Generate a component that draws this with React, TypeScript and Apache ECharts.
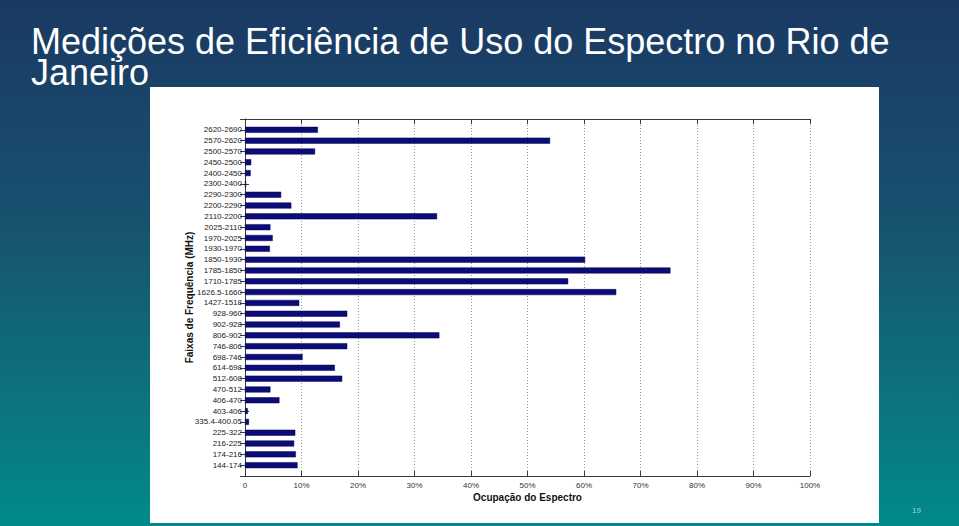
import React, { useEffect, useRef } from "react";
import * as echarts from "echarts";

const bandLabels: string[] = [
  "2620-2690", "2570-2620", "2500-2570", "2450-2500", "2400-2450", "2300-2400",
  "2290-2300", "2200-2290", "2110-2200", "2025-2110", "1970-2025", "1930-1970",
  "1850-1930", "1785-1850", "1710-1785", "1626.5-1660", "1427-1518", "928-960",
  "902-928", "806-902", "746-806", "698-746", "614-698", "512-608", "470-512",
  "406-470", "403-406", "335.4-400.05", "225-322", "216-225", "174-216", "144-174",
];

const occupancy: number[] = [
  12.9, 54.0, 12.4, 1.1, 1.0, 0.2,
  6.4, 8.2, 34.0, 4.5, 4.9, 4.4,
  60.2, 75.3, 57.2, 65.7, 9.6, 18.1,
  16.8, 34.4, 18.1, 10.2, 15.9, 17.2, 4.5,
  6.1, 0.5, 0.7, 8.9, 8.7, 9.0, 9.3,
];

const xTicks = { min: 0, max: 100, interval: 10 };

const titleLine1 = "Medições de Eficiência de Uso do Espectro no Rio de";
const titleLine2 = "Janeiro";
const yName = "Faixas de Frequência (MHz)";
const xName = "Ocupação do Espectro";
const pageNumber = "19";

const narrow = "'Liberation Sans Narrow', 'Arial Narrow', 'Liberation Sans', Arial, sans-serif";
const sans = "'Liberation Sans', Arial, sans-serif";

export default function App() {
  const ref = useRef<HTMLDivElement>(null);

  useEffect(() => {
    if (!ref.current) return;
    const chart = echarts.init(ref.current, undefined, { renderer: "svg" });
    // padded categories so that bars sit at 1..N inside [0, N+1]
    const cats = ["", ...bandLabels, ""];
    const vals = [null, ...occupancy, null];
    const axisLineStyle = { color: "#3a3a3a", width: 1 };
    const tickStyle = { color: "#3a3a3a", width: 1 };

    chart.setOption({
      animation: false,
      backgroundColor: "transparent",
      grid: { left: 245, right: 149, top: 119, bottom: 50, containLabel: false },
      xAxis: [
        {
          type: "value",
          position: "bottom",
          min: xTicks.min,
          max: xTicks.max,
          interval: xTicks.interval,
          name: xName,
          nameLocation: "middle",
          nameGap: 16,
          nameMoveOverlap: false,
          nameTextStyle: { fontFamily: sans, fontWeight: "bold", fontSize: 10, color: "#111" },
          axisLine: { show: true, lineStyle: axisLineStyle },
          axisTick: { show: true, inside: true, length: 5, lineStyle: tickStyle },
          axisLabel: {
            margin: 5,
            fontFamily: narrow,
            fontSize: 8,
            color: "#333",
            formatter: (v: number) => (v === 0 ? "0" : v + "%"),
          },
          splitLine: { show: true, lineStyle: { color: "#9a9a9a", type: [1, 2], width: 1 } },
        },
        {
          type: "value",
          position: "top",
          min: xTicks.min,
          max: xTicks.max,
          interval: xTicks.interval,
          axisLine: { show: true, lineStyle: axisLineStyle },
          axisTick: { show: true, inside: true, length: 5, lineStyle: tickStyle },
          axisLabel: { show: false },
          splitLine: { show: false },
        },
      ],
      yAxis: [
        {
          type: "category",
          data: cats,
          inverse: true,
          boundaryGap: false,
          position: "left",
          name: yName,
          nameLocation: "middle",
          nameGap: 51,
          nameMoveOverlap: false,
          nameRotate: 90,
          nameTextStyle: { fontFamily: sans, fontWeight: "bold", fontSize: 10, color: "#111" },
          axisLine: { show: true, lineStyle: axisLineStyle },
          axisTick: { show: true, inside: true, length: 4, alignWithLabel: true, lineStyle: tickStyle },
          axisLabel: { margin: 3, fontFamily: narrow, fontSize: 8, color: "#222", interval: 0 },
          splitLine: { show: false },
        },
        {
          type: "category",
          data: cats,
          inverse: true,
          boundaryGap: false,
          position: "right",
          axisLine: { show: true, lineStyle: axisLineStyle },
          axisTick: { show: true, inside: true, length: 5, interval: 0, lineStyle: tickStyle },
          axisLabel: { show: false },
          splitLine: { show: false },
        },
      ],
      series: [
        {
          type: "bar",
          xAxisIndex: 0,
          yAxisIndex: 0,
          data: vals,
          barWidth: 6,
          itemStyle: { color: "#0c0c78", borderColor: "#05054a", borderWidth: 0.5 },
        },
      ],
      graphic: [
        {
          type: "text",
          x: 31,
          y: 41,
          style: {
            text: titleLine1,
            fill: "#ffffff",
            font: `36px ${sans}`,
            lineHeight: 31,
            verticalAlign: "middle",
          },
        },
        {
          type: "text",
          x: 31,
          y: 72,
          style: {
            text: titleLine2,
            fill: "#ffffff",
            font: `36px ${sans}`,
            lineHeight: 31,
            verticalAlign: "middle",
          },
        },
        {
          type: "text",
          left: 912,
          top: 506,
          style: { text: pageNumber, fill: "#9fd6d6", font: `8px ${sans}` },
        },
      ],
    });
    return () => chart.dispose();
  }, []);

  return (
    <div
      style={{
        position: "absolute",
        left: 0,
        top: 0,
        width: 959,
        height: 526,
        overflow: "hidden",
        background: "linear-gradient(to bottom, #1a3963 0%, #18506e 40%, #0e6d7c 70%, #008a8c 100%)",
      }}
    >
      <div
        style={{
          position: "absolute",
          left: 150,
          top: 87,
          width: 729,
          height: 436,
          background: "#ffffff",
        }}
      />
      <div ref={ref} style={{ position: "absolute", left: 0, top: 0, width: 959, height: 526 }} />
    </div>
  );
}
